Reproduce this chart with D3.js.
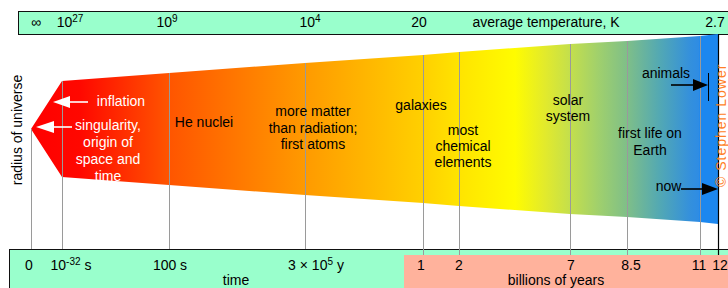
<!DOCTYPE html>
<html><head><meta charset="utf-8">
<script src="https://cdn.jsdelivr.net/npm/d3@7"></script>
<style>
body{margin:0;background:#fff}
svg{display:block}
text{font-family:Arial,"Liberation Sans",Helvetica,sans-serif;font-size:14px}
</style>
</head><body>
<svg id="c" width="728" height="288"></svg>
<script>
// ---------------- data ----------------
const epochs = ["big bang","end of inflation","nucleosynthesis","recombination","1 Gyr","2 Gyr","7 Gyr","8.5 Gyr","11 Gyr","12 Gyr (now)"];
const timeLabels = ["0","10^{-32} s","100 s","3 × 10^{5} y","1","2","7","8.5","11","12"];
const tempLabels = ["∞","10^{27}","10^{9}","10^{4}","20","","","","","2.7"];
// relative radius of the universe at each epoch (schematic)
const radius = [0, 48, 56, 66, 74, 77, 85, 88, 93, 95];
const annotations = [
  ["inflation"],
  ["singularity,","origin of","space and","time"],
  ["He nuclei"],
  ["more matter","than radiation;","first atoms"],
  ["galaxies"],
  ["most","chemical","elements"],
  ["solar","system"],
  ["first life on","Earth"],
  ["animals"],
  ["now"]
];
const titles = {temp:"average temperature, K", time:"time", gyr:"billions of years", yAxis:"radius of universe", credit:"© Stephen Lower"};

// ---------------- layout / style ----------------
const W = 728, H = 288;
const epochX = [31, 62, 169, 305, 423, 459, 570, 627, 700, 718];
const yc = 129;
const timeDx = [-2, 9, 1, 11, -2, 0, 1, 4, -1, 2];
const tempDx = [5, 8, -2, 5, -4, 0, 0, 0, 0, -3];
const annLayout = [
  {x:121, y:106, lh:17, c:"#fff"},
  {x:108, y:130, lh:17, c:"#fff"},
  {x:204, y:127, lh:17, c:"#000"},
  {x:313, y:116, lh:16.5, c:"#000"},
  {x:421, y:110, lh:17, c:"#000"},
  {x:463, y:135, lh:16, c:"#000"},
  {x:568, y:105, lh:16, c:"#000"},
  {x:650, y:138, lh:17, c:"#000"},
  {x:666, y:78, lh:17, c:"#000"},
  {x:668.5, y:191, lh:17, c:"#000"}
];
const gradStops = [
  [31,"#ff0000"],[80,"#ff0800"],[169,"#ff5500"],[305,"#ff9a00"],[423,"#ffd000"],
  [459,"#ffe400"],[515,"#fffc00"],[545,"#e2ea2c"],[570,"#c4df4c"],[600,"#9ecf6e"],
  [627,"#7fbf88"],[660,"#52a8b4"],[690,"#3490dc"],[699,"#2e8ce4"],[700,"#1c87ef"],[718,"#1c87ef"]
];
const MINT = "#99ffcc", SALMON = "#ffb29c";

const svg = d3.select("#c");
const x = d3.scaleLinear().domain(d3.range(epochs.length)).range(epochX);
const r = d3.scaleLinear().domain([0, 100]).range([0, 100]);

function rich(sel, str){
  const parts = str.split(/\^\{([^}]*)\}/);
  let pending = 0;
  parts.forEach((p,k)=>{
    if(!p) return;
    if(k%2===1){
      sel.append("tspan").attr("font-size",10).attr("dy",-5).text(p);
      pending = 5;
    } else {
      const t = sel.append("tspan").text(p);
      if(pending){ t.attr("dy",pending); pending = 0; }
    }
  });
}

// top temperature bar
svg.append("rect").attr("x",18.5).attr("y",11.5).attr("width",W).attr("height",23)
  .attr("fill",MINT).attr("stroke","#111").attr("stroke-width",1);

// universe shape
const defs = svg.append("defs");
const lg = defs.append("linearGradient").attr("id","uni").attr("gradientUnits","userSpaceOnUse")
  .attr("x1",epochX[0]).attr("x2",epochX[epochX.length-1]).attr("y1",0).attr("y2",0);
const gx0 = epochX[0], gx1 = epochX[epochX.length-1];
gradStops.forEach(s=>lg.append("stop").attr("offset",(s[0]-gx0)/(gx1-gx0)).attr("stop-color",s[1]));

const idx = d3.range(epochs.length);
const pts = idx.map(i=>[x(i), yc - r(radius[i])]).concat(idx.slice().reverse().map(i=>[x(i), yc + r(radius[i])]));
svg.append("path").attr("d", d3.line()(pts) + "Z").attr("fill","url(#uni)");

// bottom time bar
svg.append("rect").attr("x",9.5).attr("y",249.5).attr("width",W).attr("height",50)
  .attr("fill",MINT).attr("stroke","#111").attr("stroke-width",1);

// epoch lines
svg.append("g").selectAll("line").data(idx.slice(0, idx.length-1)).join("line")
  .attr("x1",i=>x(i)+0.5).attr("x2",i=>x(i)+0.5)
  .attr("y1",i=>yc - r(radius[i])).attr("y2",i=>i>=4?255:249)
  .attr("stroke","#9a9a9a").attr("stroke-width",1);
const last = idx.length-1;
svg.append("line").attr("x1",x(last)+0.5).attr("x2",x(last)+0.5)
  .attr("y1",yc - r(radius[last])).attr("y2",255).attr("stroke","#000").attr("stroke-width",1.2);

// billions of years band
svg.append("rect").attr("x",404).attr("y",255).attr("width",W).attr("height",40).attr("fill",SALMON);

// temperature labels
svg.append("g").selectAll("text").data(idx.filter(i=>tempLabels[i])).join("text")
  .attr("x",i=>x(i)+tempDx[i]).attr("y",27).attr("text-anchor","middle").attr("fill","#000")
  .each(function(i){ rich(d3.select(this), tempLabels[i]); });
svg.append("text").attr("x",546).attr("y",27).attr("text-anchor","middle").text(titles.temp);

// time labels
svg.append("g").selectAll("text").data(idx).join("text")
  .attr("x",i=>x(i)+timeDx[i]).attr("y",270).attr("text-anchor","middle").attr("fill","#000")
  .each(function(i){ rich(d3.select(this), timeLabels[i]); });
svg.append("text").attr("x",236).attr("y",285).attr("text-anchor","middle").text(titles.time);
svg.append("text").attr("x",556).attr("y",285).attr("text-anchor","middle").text(titles.gyr);

// y-axis title
svg.append("text").attr("transform","translate(22,130) rotate(-90)").attr("text-anchor","middle").text(titles.yAxis);

// credit along the right edge
svg.append("text").attr("transform","translate(726,187) rotate(-90)").attr("font-size",10)
  .attr("letter-spacing",1).attr("fill","#ff7f27").text(titles.credit);

// annotations
annotations.forEach((lines,k)=>{
  const L = annLayout[k];
  const t = svg.append("text").attr("text-anchor","middle").attr("fill",L.c);
  lines.forEach((s,j)=>t.append("tspan").attr("x",L.x).attr("y",L.y + j*L.lh).text(s));
});

// arrows
function arrow(x0, tipX, y, color, head){
  const dir = tipX < x0 ? 1 : -1;
  svg.append("line").attr("x1",x0).attr("x2",tipX + dir*head*0.6).attr("y1",y).attr("y2",y)
    .attr("stroke",color).attr("stroke-width",1.6);
  svg.append("path").attr("d",`M${tipX},${y}L${tipX+dir*head},${y-6}L${tipX+dir*head},${y+6}Z`).attr("fill",color);
}
arrow(88, 53, 102, "#fff", 17);
arrow(72, 36, 127, "#fff", 18);
arrow(671, 708, 85, "#000", 15);
arrow(681, 718, 189, "#000", 16);
svg.append("line").attr("x1",708.5).attr("x2",708.5).attr("y1",73).attr("y2",101).attr("stroke","#000").attr("stroke-width",1);
</script>
</body></html>
